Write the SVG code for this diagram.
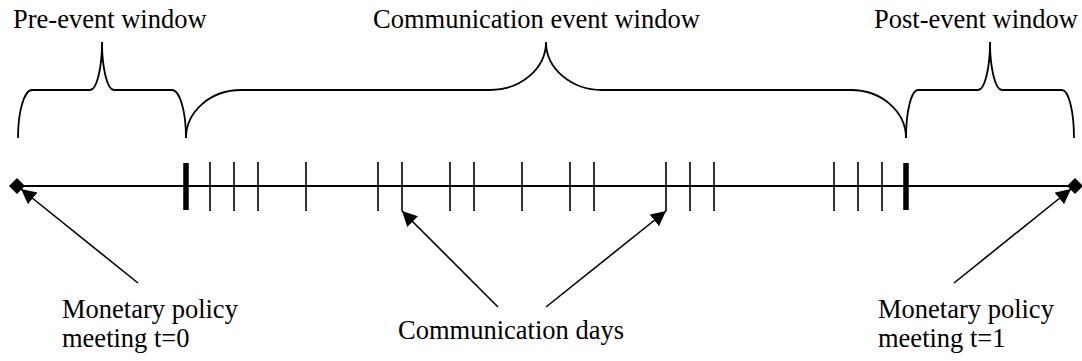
<svg xmlns="http://www.w3.org/2000/svg" width="1082" height="361" viewBox="0 0 1082 361">
<style>
  text { font-family: "Liberation Serif", "Times New Roman", serif; font-size: 26.5px; fill: #000; }
  .brace { fill: none; stroke: #000; stroke-width: 1.8; }
  .axis { stroke: #000; stroke-width: 2.2; }
  .tick { stroke: #000; stroke-width: 1.6; }
  .tick-major { stroke: #000; stroke-width: 5.5; }
  .arrow { stroke: #000; stroke-width: 1.6; fill: none; marker-end: url(#ah); }
  .diamond { fill: #000; }
</style>
<defs>
  <marker id="ah" markerUnits="userSpaceOnUse" markerWidth="18" markerHeight="16" refX="15" refY="7.5" orient="auto">
    <path d="M0,0 L15,7.5 L0,15 Z" fill="#000"/>
  </marker>
</defs>
<rect width="1082" height="361" fill="#fff"/>

<g id="pre-event-window">
  <path class="brace" d="M18,138 A14,48 0 0 1 32,90 H90 A12,48 0 0 0 102,42 A12,48 0 0 0 114,90 H172 A14,48 0 0 1 186,138"/>
  <text x="13" y="28">Pre-event window</text>
</g>

<g id="communication-event-window">
  <path class="brace" d="M186,138 A55,48 0 0 1 241,90 H490 A56,48 0 0 0 546,42 A56,48 0 0 0 602,90 H851 A55,48 0 0 1 906,138"/>
  <text x="373" y="28">Communication event window</text>
</g>

<g id="post-event-window">
  <path class="brace" d="M906,138 A12,48 0 0 1 918,90 H978 A12,48 0 0 0 990,42 A12,48 0 0 0 1002,90 H1062 A12,48 0 0 1 1074,138"/>
  <text x="874" y="28">Post-event window</text>
</g>

<g id="timeline">
  <line class="axis" x1="17" y1="186" x2="1075" y2="186"/>
  <polygon class="diamond" points="17,178 25,186 17,194 9,186"/>
  <polygon class="diamond" points="1075,178 1083,186 1075,194 1067,186"/>
  <line class="tick-major" x1="186" y1="163" x2="186" y2="210"/>
  <line class="tick-major" x1="906" y1="163" x2="906" y2="210"/>
  <g class="ticks">
    <line class="tick" x1="210" y1="162" x2="210" y2="211"/>
    <line class="tick" x1="234" y1="162" x2="234" y2="211"/>
    <line class="tick" x1="258" y1="162" x2="258" y2="211"/>
    <line class="tick" x1="306" y1="162" x2="306" y2="211"/>
    <line class="tick" x1="378" y1="162" x2="378" y2="211"/>
    <line class="tick" x1="402" y1="162" x2="402" y2="211"/>
    <line class="tick" x1="450" y1="162" x2="450" y2="211"/>
    <line class="tick" x1="474" y1="162" x2="474" y2="211"/>
    <line class="tick" x1="522" y1="162" x2="522" y2="211"/>
    <line class="tick" x1="570" y1="162" x2="570" y2="211"/>
    <line class="tick" x1="594" y1="162" x2="594" y2="211"/>
    <line class="tick" x1="666" y1="162" x2="666" y2="211"/>
    <line class="tick" x1="690" y1="162" x2="690" y2="211"/>
    <line class="tick" x1="714" y1="162" x2="714" y2="211"/>
    <line class="tick" x1="834" y1="162" x2="834" y2="211"/>
    <line class="tick" x1="858" y1="162" x2="858" y2="211"/>
    <line class="tick" x1="882" y1="162" x2="882" y2="211"/>
  </g>
</g>

<g id="meeting-t0">
  <text x="62" y="318">Monetary policy</text>
  <text x="62" y="347">meeting t=0</text>
</g>

<g id="communication-days">
  <text x="398" y="339">Communication days</text>
</g>

<g id="meeting-t1">
  <text x="878" y="318">Monetary policy</text>
  <text x="878" y="347">meeting t=1</text>
</g>

<g id="connectors">
  <line class="arrow" x1="138" y1="283" x2="21" y2="189"/>
  <line class="arrow" x1="498" y1="307" x2="402" y2="211"/>
  <line class="arrow" x1="546" y1="307" x2="666" y2="211"/>
  <line class="arrow" x1="954" y1="283" x2="1071" y2="189"/>
</g>
</svg>
